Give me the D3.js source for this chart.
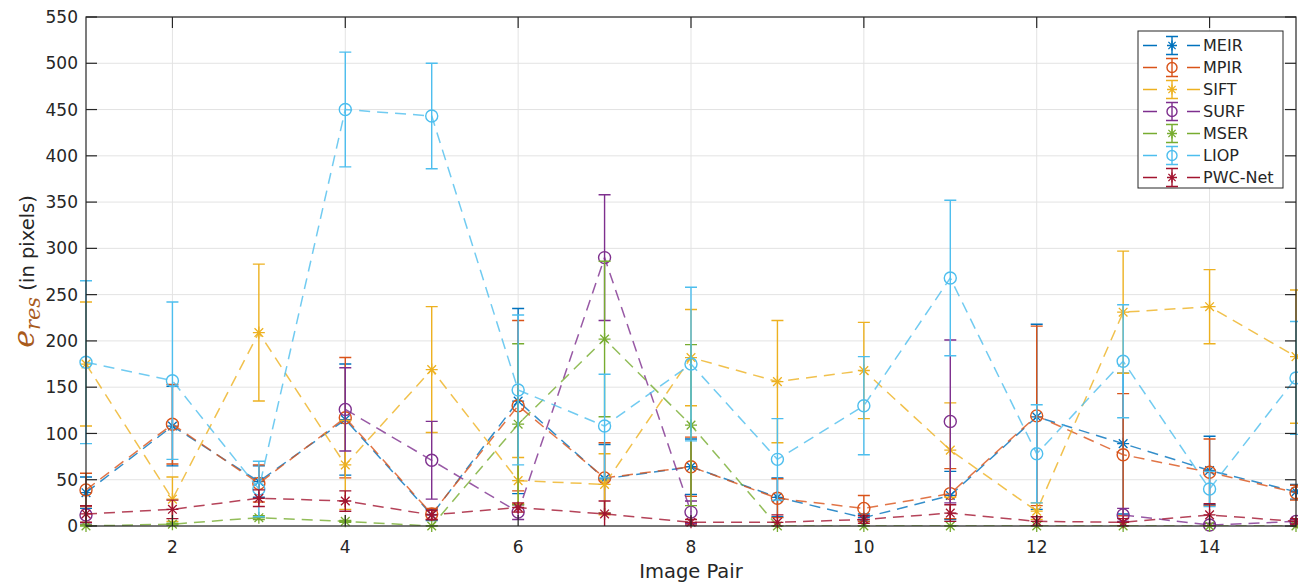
<!DOCTYPE html>
<html>
<head>
<meta charset="utf-8">
<script src="https://cdn.jsdelivr.net/npm/d3@7"></script>
<style>
  body { margin: 0; background: #fff; }
  svg { display: block; font-family: "DejaVu Sans", sans-serif; }
</style>
</head>
<body>
<div id="chart"></div>
<script>
// image pair index on x
var pairs = [1, 2, 3, 4, 5, 6, 7, 8, 9, 10, 11, 12, 13, 14, 15];
var xTicks = [2, 4, 6, 8, 10, 12, 14];
var yTicks = [0, 50, 100, 150, 200, 250, 300, 350, 400, 450, 500, 550];

// mean residual error and error bar half-length per method
var meir    = [36, 108, 48, 115, 12, 135, 51, 64, 31, 9, 33, 118, 89, 60, 37];
var meirErr = [17, 43, 17, 60, 6, 100, 37, 30, 21, 4, 26, 100, 76, 37, 8];
var mpir    = [39, 110, 46, 117, 13, 130, 52, 64, 30, 19, 35, 119, 77, 58, 36];
var mpirErr = [18, 43, 20, 65, 6, 92, 38, 32, 21, 14, 27, 97, 66, 36, 8];
var sift    = [175, 29, 209, 66, 169, 49, 45, 182, 156, 168, 82, 16, 231, 237, 183];
var siftErr = [67, 24, 74, 48, 68, 25, 33, 52, 66, 52, 51, 9, 66, 40, 72];
var surf    = [12, null, null, 126, 71, 15, 290, 15, null, null, 113, null, 12, 1, 5];
var surfErr = [10, 0, 0, 45, 42, 8, 68, 12, 0, 0, 88, 0, 7, 2, 2];
var mser    = [0, 2, 9, 5, 0, 110, 202, 109, 0, 0, 0, 0, 0, 0, 0];
var mserErr = [1, 1, 2, 1, 0, 87, 84, 87, 0, 0, 0, 0, 0, 0, 0];
var liop    = [177, 157, 40, 450, 443, 147, 108, 175, 72, 130, 268, 78, 178, 40, 160];
var liopErr = [88, 85, 30, 62, 57, 81, 56, 83, 44, 53, 84, 53, 61, 19, 61];
var pwc     = [13, 18, 30, 27, 12, 20, 13, 4, 4, 7, 14, 5, 4, 12, 5];
var pwcErr  = [9, 10, 9, 11, 5, 5, 14, 3, 8, 4, 9, 5, 4, 12, 3];

var series = [
  {name: 'MEIR',    values: meir, errs: meirErr, color: '#0072BD', marker: 'star'},
  {name: 'MPIR',    values: mpir, errs: mpirErr, color: '#D95319', marker: 'circle'},
  {name: 'SIFT',    values: sift, errs: siftErr, color: '#EDB120', marker: 'star'},
  {name: 'SURF',    values: surf, errs: surfErr, color: '#7E2F8E', marker: 'circle'},
  {name: 'MSER',    values: mser, errs: mserErr, color: '#77AC30', marker: 'star'},
  {name: 'LIOP',    values: liop, errs: liopErr, color: '#4DBEEE', marker: 'circle'},
  {name: 'PWC-Net', values: pwc,  errs: pwcErr,  color: '#A2142F', marker: 'star'}
];

var W = 1298, H = 584;
var margin = {top: 17, right: 2, bottom: 58, left: 86};
var width = W - margin.left - margin.right,
    height = H - margin.top - margin.bottom;

var svg = d3.select('#chart').append('svg')
    .attr('width', W)
    .attr('height', H);

var g = svg.append('g')
    .attr('transform', 'translate(' + margin.left + ',' + margin.top + ')');

var x = d3.scaleLinear().domain([1, 15]).range([0, width]);
var y = d3.scaleLinear().domain([0, 550]).range([height, 0]);

var axisColor = '#262626';

// grid
g.append('g').selectAll('line.vg')
    .data(xTicks).enter().append('line')
    .attr('x1', function(d) { return x(d); }).attr('x2', function(d) { return x(d); })
    .attr('y1', 0).attr('y2', height)
    .attr('stroke', '#e3e3e3').attr('stroke-width', 1);
g.append('g').selectAll('line.hg')
    .data(yTicks).enter().append('line')
    .attr('y1', function(d) { return y(d); }).attr('y2', function(d) { return y(d); })
    .attr('x1', 0).attr('x2', width)
    .attr('stroke', '#e3e3e3').attr('stroke-width', 1);

// clip for lines
svg.append('defs').append('clipPath').attr('id', 'plotclip')
  .append('rect').attr('x', -20).attr('y', 0).attr('width', width + 40).attr('height', height);

function drawMarker(sel, type, cx, cy, color, r) {
  if (type === 'circle') {
    sel.append('circle').attr('cx', cx).attr('cy', cy).attr('r', r)
      .attr('fill', 'none').attr('stroke', color).attr('stroke-width', 1.4);
  } else {
    var a = r * 0.72;
    var p = 'M' + (cx - r) + ',' + cy + 'H' + (cx + r) +
            'M' + cx + ',' + (cy - r) + 'V' + (cy + r) +
            'M' + (cx - a) + ',' + (cy - a) + 'L' + (cx + a) + ',' + (cy + a) +
            'M' + (cx - a) + ',' + (cy + a) + 'L' + (cx + a) + ',' + (cy - a);
    sel.append('path').attr('d', p).attr('fill', 'none')
      .attr('stroke', color).attr('stroke-width', 1.3);
  }
}

var line = d3.line()
    .defined(function(d) { return d.v !== null; })
    .x(function(d) { return x(d.p); })
    .y(function(d) { return y(d.v); });

var capW = 6;

series.forEach(function(s) {
  var pts = pairs.map(function(p, i) { return {p: p, v: s.values[i], e: s.errs[i]}; });
  var sg = g.append('g');
  var clipped = sg.append('g').attr('clip-path', 'url(#plotclip)');

  // error bars
  pts.filter(function(d) { return d.v !== null; }).forEach(function(d) {
    var cx = x(d.p), top = y(d.v + d.e), bot = y(d.v - d.e);
    clipped.append('path')
      .attr('d', 'M' + cx + ',' + top + 'V' + bot +
                 'M' + (cx - capW) + ',' + top + 'H' + (cx + capW) +
                 'M' + (cx - capW) + ',' + bot + 'H' + (cx + capW))
      .attr('fill', 'none').attr('stroke', s.color).attr('stroke-width', 1.4);
  });

  // dashed connecting line
  clipped.append('path')
    .datum(pts)
    .attr('d', line)
    .attr('fill', 'none')
    .attr('stroke', s.color)
    .attr('stroke-opacity', 0.8)
    .attr('stroke-width', 1.5)
    .attr('stroke-dasharray', '11,7');

  pts.filter(function(d) { return d.v !== null; }).forEach(function(d) {
    drawMarker(sg, s.marker, x(d.p), y(d.v), s.color, 6);
  });
});

// axes box with inward ticks
var tickLen = 11;
var axes = g.append('g').attr('stroke', axisColor).attr('stroke-width', 1.2);
axes.append('rect').attr('x', 0).attr('y', 0).attr('width', width).attr('height', height)
  .attr('fill', 'none');
xTicks.forEach(function(t) {
  axes.append('line').attr('x1', x(t)).attr('x2', x(t)).attr('y1', height).attr('y2', height - tickLen);
  axes.append('line').attr('x1', x(t)).attr('x2', x(t)).attr('y1', 0).attr('y2', tickLen);
});
yTicks.forEach(function(t) {
  axes.append('line').attr('y1', y(t)).attr('y2', y(t)).attr('x1', 0).attr('x2', tickLen);
  axes.append('line').attr('y1', y(t)).attr('y2', y(t)).attr('x1', width).attr('x2', width - tickLen);
});

// tick labels
g.append('g').selectAll('text')
  .data(xTicks).enter().append('text')
  .attr('x', function(d) { return x(d); })
  .attr('y', height + 27)
  .attr('text-anchor', 'middle')
  .attr('font-size', 17)
  .attr('fill', axisColor)
  .text(function(d) { return d; });

g.append('g').selectAll('text')
  .data(yTicks).enter().append('text')
  .attr('x', -8)
  .attr('y', function(d) { return y(d); })
  .attr('dy', '0.36em')
  .attr('text-anchor', 'end')
  .attr('font-size', 17)
  .attr('fill', axisColor)
  .text(function(d) { return d; });

// axis labels
svg.append('text')
  .attr('x', margin.left + width / 2)
  .attr('y', 578)
  .attr('text-anchor', 'middle')
  .attr('font-size', 19.5)
  .attr('fill', axisColor)
  .text('Image Pair');

var yl = svg.append('text')
  .attr('transform', 'translate(34,' + (margin.top + height / 2) + ') rotate(-90)')
  .attr('text-anchor', 'middle')
  .attr('fill', axisColor);
yl.append('tspan')
  .attr('font-family', '"DejaVu Serif", serif')
  .attr('font-style', 'italic')
  .attr('font-size', 30)
  .attr('fill', '#a85a1c')
  .text('e');
yl.append('tspan')
  .attr('font-family', '"DejaVu Serif", serif')
  .attr('font-style', 'italic')
  .attr('font-size', 21)
  .attr('dy', 6)
  .attr('fill', '#a85a1c')
  .text('res');
yl.append('tspan')
  .attr('font-size', 19.5)
  .attr('dy', -6)
  .text(' (in pixels)');

// legend
var lg = svg.append('g');
lg.append('rect')
  .attr('x', 1138).attr('y', 31).attr('width', 145).attr('height', 157)
  .attr('fill', '#fff').attr('stroke', axisColor).attr('stroke-width', 1);

var rows = lg.selectAll('g.row')
  .data(series).enter().append('g')
  .attr('transform', function(d, i) { return 'translate(0,' + (45.5 + i * 22) + ')'; });

rows.each(function(s) {
  var r = d3.select(this);
  r.append('path')
    .attr('d', 'M1143,0H1157M1187,0H1200')
    .attr('stroke', s.color).attr('stroke-width', 1.4).attr('fill', 'none');
  r.append('path')
    .attr('d', 'M1172,-9V9M1166,-9H1178M1166,9H1178')
    .attr('stroke', s.color).attr('stroke-width', 1.4).attr('fill', 'none');
  drawMarker(r, s.marker, 1172, 0, s.color, 5);
  r.append('text')
    .attr('x', 1203).attr('y', 0).attr('dy', '0.36em')
    .attr('font-size', 16)
    .attr('fill', axisColor)
    .text(s.name);
});
</script>
</body>
</html>
